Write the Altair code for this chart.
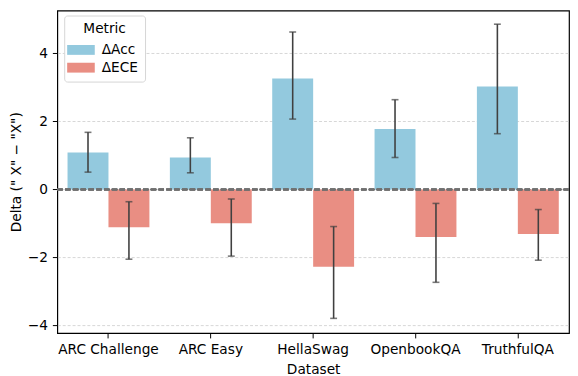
import altair as alt
import pandas as pd

datasets = ["ARC Challenge", "ARC Easy", "HellaSwag", "OpenbookQA", "TruthfulQA"]
metrics = ["ΔAcc", "ΔECE"]
acc = [1.09, 0.94, 3.26, 1.78, 3.03]
acc_lo = [0.51, 0.49, 2.07, 0.94, 1.64]
acc_hi = [1.68, 1.52, 4.63, 2.64, 4.86]
ece = [-1.11, -0.99, -2.27, -1.40, -1.31]
ece_lo = [-2.05, -1.96, -3.79, -2.73, -2.08]
ece_hi = [-0.36, -0.28, -1.09, -0.41, -0.59]
colors = ["#93c9de", "#e98e83"]

rows = []
for i, d in enumerate(datasets):
    rows.append({"dataset": d, "metric": metrics[0], "value": acc[i], "lo": acc_lo[i], "hi": acc_hi[i]})
    rows.append({"dataset": d, "metric": metrics[1], "value": ece[i], "lo": ece_lo[i], "hi": ece_hi[i]})
df = pd.DataFrame(rows)

FONT = "DejaVu Sans"
FS = 13.9

x_enc = alt.X(
    "dataset:N",
    sort=datasets,
    scale=alt.Scale(paddingInner=0.2, paddingOuter=0.1),
    axis=alt.Axis(
        title="Dataset", labelAngle=0, domain=False, ticks=True, tickSize=5,
        tickWidth=1, tickColor="black", labelPadding=5, labelFontSize=FS, titleFontSize=FS,
        labelColor="black", titleColor="black", titleFontWeight="normal",
        labelFont=FONT, titleFont=FONT, titlePadding=6,
    ),
)
xo_enc = alt.XOffset("metric:N", sort=metrics, scale=alt.Scale(paddingInner=0, paddingOuter=0))
y_scale = alt.Scale(domain=[-4.22, 5.26], nice=False, zero=False)

bars = alt.Chart(df).mark_bar().encode(
    x=x_enc,
    xOffset=xo_enc,
    y=alt.Y(
        "value:Q", scale=y_scale,
        axis=alt.Axis(
            title='Delta (" X" − "X")', values=[-4, -2, 0, 2, 4], format="d",
            domain=False, tickSize=5, tickWidth=1, tickColor="black", labelPadding=5,
            labelFontSize=FS, titleFontSize=FS, labelColor="black", titleColor="black",
            titleFontWeight="normal", labelFont=FONT, titleFont=FONT, titlePadding=4,
            grid=True, gridDash=[3, 2], gridColor="#cccccc", gridWidth=0.8,
        ),
    ),
    y2=alt.datum(0),
    color=alt.Color(
        "metric:N", sort=metrics,
        scale=alt.Scale(domain=metrics, range=colors),
        legend=alt.Legend(
            title="Metric", orient="none", legendX=7, legendY=5,
            titleAnchor="middle", titleFontSize=FS, titleFontWeight="normal",
            titleFont=FONT, labelFont=FONT, labelFontSize=FS, titleColor="black",
            labelColor="black", symbolType="M-1.4,-0.5H1.4V0.5H-1.4Z", symbolSize=400,
            symbolStrokeWidth=0, labelOffset=11, padding=7, fillColor="white",
            strokeColor="#d5d5d5", cornerRadius=3, rowPadding=1, titlePadding=4,
        ),
    ),
)

zero = alt.Chart(df).mark_rule(color="#707070", strokeWidth=1.5, strokeDash=[5.5, 2.4]).encode(
    y=alt.datum(0)
)

err = alt.Chart(df).mark_rule(color="#404040", strokeWidth=1.6).encode(
    x=x_enc, xOffset=xo_enc, y=alt.Y("lo:Q", scale=y_scale), y2="hi:Q"
)
cap_lo = alt.Chart(df).mark_tick(color="#404040", thickness=1.6, size=7, orient="horizontal").encode(
    x=x_enc, xOffset=xo_enc, y=alt.Y("lo:Q", scale=y_scale)
)
cap_hi = alt.Chart(df).mark_tick(color="#404040", thickness=1.6, size=7, orient="horizontal").encode(
    x=x_enc, xOffset=xo_enc, y=alt.Y("hi:Q", scale=y_scale)
)

chart = alt.layer(bars, zero, err, cap_lo, cap_hi).properties(
    width=519, height=327,
    autosize=alt.AutoSizeParams(type="none"),
    padding={"left": 50, "top": 0, "right": 1, "bottom": 41},
).configure(font=FONT).configure_view(stroke="black", strokeWidth=1.2)

chart.save("out.html", embed_options={"renderer": "svg", "actions": False})
